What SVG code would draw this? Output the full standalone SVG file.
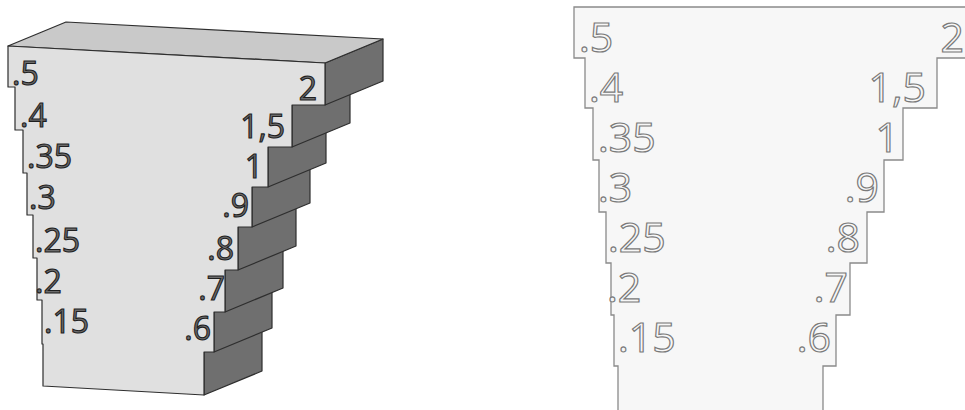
<svg xmlns="http://www.w3.org/2000/svg" width="965" height="410" viewBox="0 0 965 410">
  <style>
    .edge { stroke: #2e2e2e; stroke-width: 1.2; stroke-linejoin: round; }
    .front { fill: #e0e0e0; }
    .top { fill: #c9c9c9; }
    .side { fill: #6f6f6f; }
    .engraved { font-family: "Open Sans", "Noto Sans", sans-serif; font-size: 32px; fill: #6c6c6c; stroke: #1f1f1f; stroke-width: 1.1; }
    .plan { fill: #f7f7f7; stroke: #8a8a8a; stroke-width: 1.3; stroke-linejoin: miter; }
    .outline { font-family: "Open Sans", "Noto Sans", sans-serif; font-size: 41px; fill: #f7f7f7; stroke: #7a7a7a; stroke-width: 1.2; }
    .end { text-anchor: end; }
  </style>

  <rect width="965" height="410" fill="#ffffff"/>

  <!-- Stepped block in 3D: side faces (bottom step first), top face, front face -->
  <g id="block">
    <g id="side-faces" class="side edge">
      <polygon points="204,352 262,328 262,371 204,395"/>
      <polygon points="214,312 272,288 272,328 214,352"/>
      <polygon points="225,270 283,246 283,288 225,312"/>
      <polygon points="238,227 296,203 296,246 238,270"/>
      <polygon points="252,187 310,163 310,203 252,227"/>
      <polygon points="268,147 326,123 326,163 268,187"/>
      <polygon points="292,105 350,81 350,123 292,147"/>
      <polygon points="325,63 383,39 383,81 325,105"/>
    </g>
    <polygon id="top-face" class="top edge" points="8,46 66,22 383,39 325,63"/>
    <path id="front-face" class="front edge" d="M8,46 L325,63 L325,105 L292,105 L292,147 L268,147 L268,187 L252,187 L252,227 L238,227 L238,270 L225,270 L225,312 L214,312 L214,352 L204,352 L204,395 L43,386 L43,344 L42,344 L42,300 L37,300 L37,258 L33,258 L33,215 L27,215 L27,173 L23,173 L23,130 L15,130 L15,87 L8,87 Z"/>

    <g id="block-labels" class="engraved">
      <text x="12" y="85">.5</text>
      <text x="20" y="127">.4</text>
      <text x="27" y="168">.35</text>
      <text x="29" y="209">.3</text>
      <text x="35" y="252">.25</text>
      <text x="35" y="293">.2</text>
      <text x="44" y="333">.15</text>
      <text class="end" x="317" y="100">2</text>
      <text class="end" x="285" y="138">1,5</text>
      <text class="end" x="263" y="178">1</text>
      <text class="end" x="249" y="217">.9</text>
      <text class="end" x="234" y="260">.8</text>
      <text class="end" x="225" y="300">.7</text>
      <text class="end" x="211" y="340">.6</text>
    </g>
  </g>

  <!-- Flat outline of the same stepped profile -->
  <g id="profile">
    <path id="profile-outline" class="plan" d="M574,7 L975,7 L975,58 L937,58 L937,108 L903,108 L903,160 L884,160 L884,212 L867,212 L867,263 L850,263 L850,315 L836,315 L836,366 L823,366 L823,420 L618,420 L618,366 L614,366 L614,315 L611,315 L611,263 L606,263 L606,212 L599,212 L599,160 L593,160 L593,108 L585,108 L585,58 L574,58 Z"/>
    <g id="profile-labels" class="outline">
      <text x="579" y="52">.5</text>
      <text x="589" y="102">.4</text>
      <text x="598" y="152">.35</text>
      <text x="598" y="202">.3</text>
      <text x="608" y="252">.25</text>
      <text x="607" y="302">.2</text>
      <text x="618" y="352">.15</text>
      <text class="end" x="964" y="52">2</text>
      <text class="end" x="926" y="102">1,5</text>
      <text class="end" x="899" y="152">1</text>
      <text class="end" x="879" y="202">.9</text>
      <text class="end" x="860" y="252">.8</text>
      <text class="end" x="848" y="302">.7</text>
      <text class="end" x="831" y="352">.6</text>
    </g>
  </g>
</svg>
